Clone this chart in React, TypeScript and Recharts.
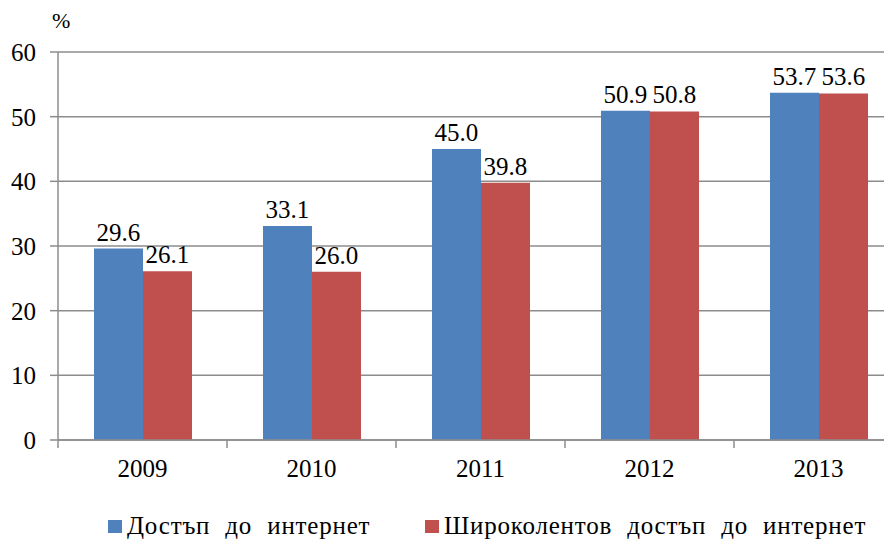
import { BarChart, Bar, XAxis, YAxis, CartesianGrid, LabelList, Legend } from 'recharts';

const years = ['2009', '2010', '2011', '2012', '2013'];
const internetAccess = [29.6, 33.1, 45.0, 50.9, 53.7];
const broadbandAccess = [26.1, 26.0, 39.8, 50.8, 53.6];
const yTicks = [0, 10, 20, 30, 40, 50, 60];
const seriesNames = ['Достъп до интернет', 'Широколентов достъп до интернет'];
const seriesColors = ['#4F81BD', '#C0504D'];

const FONT = '"Liberation Serif", "Times New Roman", "DejaVu Serif", serif';
const GRID = '#8c8c8c';
const BAND = 169;

const data = years.map((year, i) => ({
  year,
  internet: internetAccess[i],
  broadband: broadbandAccess[i],
}));

function YearTick(props: any) {
  const { x, y, payload, index } = props;
  const half = BAND / 2;
  return (
    <g>
      <line x1={x - half} y1={y} x2={x - half} y2={y + 8} stroke={GRID} strokeWidth={1.5} />
      {index === years.length - 1 && (
        <line x1={x + half} y1={y} x2={x + half} y2={y + 8} stroke={GRID} strokeWidth={1.5} />
      )}
      <text x={x} y={y + 37} textAnchor="middle" fill="#000" fontSize={25} style={{ fontFamily: FONT }}>
        {payload.value}
      </text>
    </g>
  );
}

function SeriesLegend() {
  return (
    <div style={{ fontFamily: FONT, fontSize: 25, color: '#000' }}>
      {seriesNames.map((name, i) => (
        <div
          key={name}
          style={{ display: 'flex', alignItems: 'center', position: 'absolute', top: 0, left: i === 0 ? 108 : 425 }}
        >
          <span style={{ width: 14, height: 13, background: seriesColors[i], marginRight: 5, display: 'inline-block' }} />
          <span style={{ wordSpacing: 8, letterSpacing: 0.8, whiteSpace: 'nowrap' }}>{name}</span>
        </div>
      ))}
    </div>
  );
}

export default function App() {
  return (
    <div style={{ position: 'relative', left: -8, top: -8, width: 892, height: 545, overflow: 'hidden', background: '#fff' }}>
      <div style={{ position: 'absolute', left: 52, top: 8, fontFamily: FONT, fontSize: 22 }}>%</div>
      <BarChart
        width={905}
        height={545}
        data={data}
        margin={{ top: 52, right: 2, bottom: 0, left: 0 }}
        barGap={0}
        barCategoryGap="21.3%"
      >
        <CartesianGrid horizontal vertical={false} stroke={GRID} strokeWidth={1.5} />
        <XAxis
          dataKey="year"
          height={105}
          axisLine={{ stroke: GRID, strokeWidth: 1.5 }}
          tickLine={false}
          tickSize={0}
          tickMargin={0}
          tick={<YearTick />}
          interval={0}
        />
        <YAxis
          width={58}
          domain={[0, 60]}
          ticks={yTicks}
          interval={0}
          axisLine={{ stroke: GRID, strokeWidth: 1.5 }}
          tickLine={{ stroke: GRID, strokeWidth: 1.5 }}
          tickSize={8}
          tickMargin={14}
          tick={{ fill: '#000', fontSize: 25, style: { fontFamily: FONT } }}
        />
        <Legend
          layout="horizontal"
          verticalAlign="middle"
          align="center"
          content={<SeriesLegend />}
          wrapperStyle={{ top: 512, left: 0, width: 892, height: 30 }}
        />
        <Bar dataKey="internet" name={seriesNames[0]} fill={seriesColors[0]} isAnimationActive={false}>
          <LabelList
            dataKey="internet"
            position="top"
            offset={8}
            formatter={(v: any) => Number(v).toFixed(1)}
            style={{ fill: '#000', fontSize: 25, fontFamily: FONT }}
          />
        </Bar>
        <Bar dataKey="broadband" name={seriesNames[1]} fill={seriesColors[1]} isAnimationActive={false}>
          <LabelList
            dataKey="broadband"
            position="top"
            offset={8}
            formatter={(v: any) => Number(v).toFixed(1)}
            style={{ fill: '#000', fontSize: 25, fontFamily: FONT }}
          />
        </Bar>
      </BarChart>
    </div>
  );
}
